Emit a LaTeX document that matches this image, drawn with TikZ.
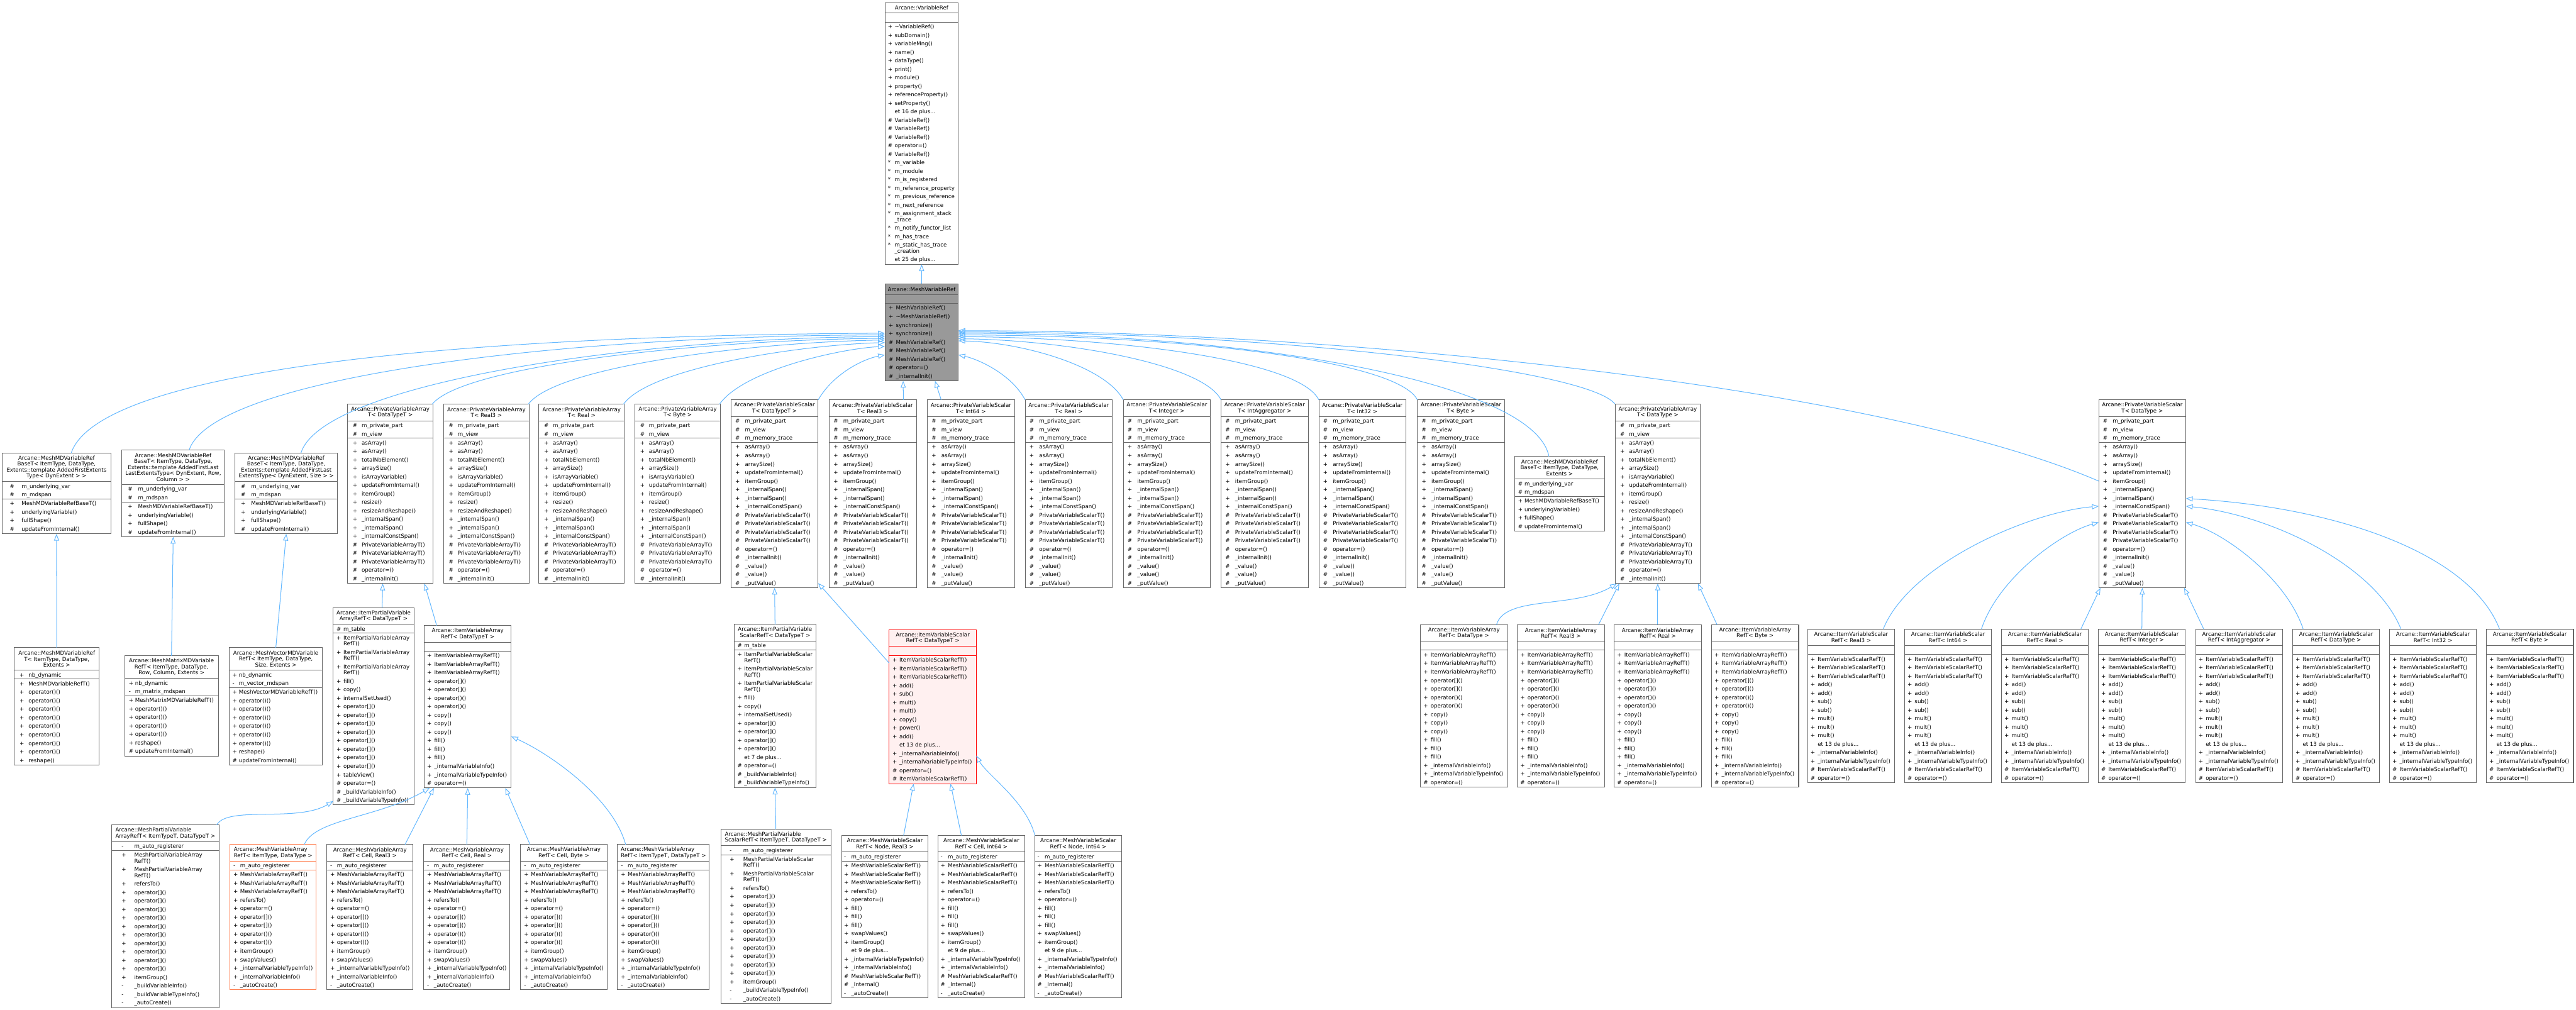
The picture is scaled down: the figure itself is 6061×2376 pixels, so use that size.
\documentclass[tikz,border=0pt]{standalone}
\usepackage{fontspec}
\setmainfont{DejaVu Sans}
\usetikzlibrary{arrows.meta,calc}
\pgfdeclarelayer{background}
\pgfsetlayers{background,main}
\definecolor{edgec}{HTML}{63B8FF}
\definecolor{boxc}{HTML}{666666}
\definecolor{grayf}{HTML}{999999}
\definecolor{redc}{HTML}{FF0000}
\definecolor{redf}{HTML}{FFF0F0}
\definecolor{orc}{HTML}{FF7F50}
\newcount\tcnt
\newcommand\fnt{\fontsize{12.8}{14}\selectfont}
\tikzset{
 cls/.style={draw=boxc,line width=1.5pt,fill=white,inner sep=0pt,outer sep=0pt,rectangle},
 clsgray/.style={cls,fill=grayf},
 clsred/.style={cls,draw=redc,fill=redf},
 clsor/.style={cls,draw=orc},
 txt/.style={font=\fnt,inner sep=0pt,outer sep=0pt,anchor=base west,text=black},
 ttl/.style={font=\fnt,inner sep=0pt,outer sep=0pt,align=center},
 ttll/.style={font=\fnt,inner sep=0pt,outer sep=0pt,align=left},
 inh/.style={draw=edgec,line width=1.5pt,-{Triangle[open,length=16pt,width=12pt]}},
}
\newcommand\coff[2]{\xdef\mysx{#1}\xdef\mynx{#2}}
\newcommand\csep{\draw[curcol,line width=1.5pt] (\myx,\mycy) -- (\myx+\myw,\mycy);\pgfmathsetmacro\mytmp{\mycy+1}\xdef\mycy{\mytmp}}
\newcommand\cbeg[9]{%
  \xdef\myname{#1}\xdef\myx{#2}\xdef\myy{#3}\xdef\myw{#4}%
  \tikzset{curbox/.style={#7},curcol/.style={draw=#9}}%
  \pgfmathsetmacro\mythh{#5*14+11}%
  \global\advance\tcnt by 1\relax
  \node[#8,name=t\the\tcnt] at (#2+#4/2,#3+\mythh/2) {#6};%
  \pgfmathsetmacro\mytmp{#3+\mythh}\xdef\mycy{\mytmp}%
  \csep}
\newcommand\crow[2]{%
  \global\advance\tcnt by 1\relax
  \node[txt,name=t\the\tcnt] at (\myx+\mysx,\mycy+14.5) {#1};%
  \global\advance\tcnt by 1\relax
  \node[txt,name=t\the\tcnt] at (\myx+\mynx,\mycy+14.5) {#2};%
  \pgfmathsetmacro\mytmp{\mycy+20}\xdef\mycy{\mytmp}}
\newcommand\crowN[1]{%
  \global\advance\tcnt by 1\relax
  \node[txt,name=t\the\tcnt] at (\myx+\mynx,\mycy+14.5) {#1};%
  \pgfmathsetmacro\mytmp{\mycy+20}\xdef\mycy{\mytmp}}
\newcommand\crowII[3]{%
  \global\advance\tcnt by 1\relax
  \node[txt,name=t\the\tcnt] at (\myx+\mysx,\mycy+14.5) {#1};%
  \global\advance\tcnt by 1\relax
  \node[txt,name=t\the\tcnt] at (\myx+\mynx,\mycy+14.5) {#2};%
  \global\advance\tcnt by 1\relax
  \node[txt,name=t\the\tcnt] at (\myx+\mynx,\mycy+28.5) {#3};%
  \pgfmathsetmacro\mytmp{\mycy+34}\xdef\mycy{\mytmp}}
\newcommand\cempty{\pgfmathsetmacro\mytmp{\mycy+20}\xdef\mycy{\mytmp}}
\newcommand\cend{%
  \pgfmathsetmacro\mytmp{\mycy+1}\xdef\mycy{\mytmp}%
  \pgfmathsetmacro\myh{\mycy-\myy}%
  \begin{pgfonlayer}{background}
  \node[curbox,anchor=north west,minimum width=\myw pt,minimum height=\myh pt] (\myname) at (\myx,\myy) {};
  \end{pgfonlayer}}
% bodies
\newcommand\MDbase{\crow{\#}{m\_underlying\_var}\crow{\#}{m\_mdspan}\csep
 \crow{+}{MeshMDVariableRefBaseT()}\crow{+}{underlyingVariable()}\crow{+}{fullShape()}\crow{\#}{updateFromInternal()}\cend}
\newcommand\PVAbody{\crow{\#}{m\_private\_part}\crow{\#}{m\_view}\csep
 \crow{+}{asArray()}\crow{+}{asArray()}\crow{+}{totalNbElement()}\crow{+}{arraySize()}\crow{+}{isArrayVariable()}
 \crow{+}{updateFromInternal()}\crow{+}{itemGroup()}\crow{+}{resize()}\crow{+}{resizeAndReshape()}
 \crow{+}{\_internalSpan()}\crow{+}{\_internalSpan()}\crow{+}{\_internalConstSpan()}
 \crow{\#}{PrivateVariableArrayT()}\crow{\#}{PrivateVariableArrayT()}\crow{\#}{PrivateVariableArrayT()}
 \crow{\#}{operator=()}\crow{\#}{\_internalInit()}\cend}
\newcommand\PVSbody{\crow{\#}{m\_private\_part}\crow{\#}{m\_view}\crow{\#}{m\_memory\_trace}\csep
 \crow{+}{asArray()}\crow{+}{asArray()}\crow{+}{arraySize()}\crow{+}{updateFromInternal()}\crow{+}{itemGroup()}
 \crow{+}{\_internalSpan()}\crow{+}{\_internalSpan()}\crow{+}{\_internalConstSpan()}
 \crow{\#}{PrivateVariableScalarT()}\crow{\#}{PrivateVariableScalarT()}\crow{\#}{PrivateVariableScalarT()}\crow{\#}{PrivateVariableScalarT()}
 \crow{\#}{operator=()}\crow{\#}{\_internalInit()}\crow{\#}{\_value()}\crow{\#}{\_value()}\crow{\#}{\_putValue()}\cend}
\newcommand\IVAbody{\cempty\csep
 \crow{+}{ItemVariableArrayRefT()}\crow{+}{ItemVariableArrayRefT()}\crow{+}{ItemVariableArrayRefT()}
 \crow{+}{operator[]()}\crow{+}{operator[]()}\crow{+}{operator()()}\crow{+}{operator()()}
 \crow{+}{copy()}\crow{+}{copy()}\crow{+}{copy()}\crow{+}{fill()}\crow{+}{fill()}\crow{+}{fill()}
 \crow{+}{\_internalVariableInfo()}\crow{+}{\_internalVariableTypeInfo()}\crow{\#}{operator=()}\cend}
\newcommand\IVSbody{\cempty\csep
 \crow{+}{ItemVariableScalarRefT()}\crow{+}{ItemVariableScalarRefT()}\crow{+}{ItemVariableScalarRefT()}
 \crow{+}{add()}\crow{+}{add()}\crow{+}{sub()}\crow{+}{sub()}\crow{+}{mult()}\crow{+}{mult()}\crow{+}{mult()}
 \crowN{et 13 de plus...}\crow{+}{\_internalVariableInfo()}\crow{+}{\_internalVariableTypeInfo()}
 \crow{\#}{ItemVariableScalarRefT()}\crow{\#}{operator=()}\cend}
\newcommand\MVAbody{\crow{-}{m\_auto\_registerer}\csep
 \crow{+}{MeshVariableArrayRefT()}\crow{+}{MeshVariableArrayRefT()}\crow{+}{MeshVariableArrayRefT()}
 \crow{+}{refersTo()}\crow{+}{operator=()}\crow{+}{operator[]()}\crow{+}{operator[]()}\crow{+}{operator()()}\crow{+}{operator()()}
 \crow{+}{itemGroup()}\crow{+}{swapValues()}\crow{+}{\_internalVariableTypeInfo()}\crow{+}{\_internalVariableInfo()}
 \crow{-}{\_autoCreate()}\cend}
\newcommand\MVSbody{\crow{-}{m\_auto\_registerer}\csep
 \crow{+}{MeshVariableScalarRefT()}\crow{+}{MeshVariableScalarRefT()}\crow{+}{MeshVariableScalarRefT()}
 \crow{+}{refersTo()}\crow{+}{operator=()}\crow{+}{fill()}\crow{+}{fill()}\crow{+}{fill()}
 \crow{+}{swapValues()}\crow{+}{itemGroup()}\crowN{et 9 de plus...}
 \crow{+}{\_internalVariableTypeInfo()}\crow{+}{\_internalVariableInfo()}
 \crow{\#}{MeshVariableScalarRefT()}\crow{\#}{\_Internal()}\crow{-}{\_autoCreate()}\cend}
\newcommand\pva[3]{\coff{12}{33}\cbeg{#1}{#2}{951}{201}{2}{Arcane::PrivateVariableArray\\T< #3 >}{cls}{ttl}{boxc}\PVAbody}
\newcommand\pvs[3]{\coff{10}{33}\cbeg{#1}{#2}{941}{205}{2}{Arcane::PrivateVariableScalar\\T< #3 >}{cls}{ttl}{boxc}\PVSbody}
\newcommand\iva[4]{\coff{7}{24}\cbeg{#1}{#2}{#3}{205}{2}{Arcane::ItemVariableArray\\RefT< #4 >}{cls}{ttl}{boxc}\IVAbody}
\newcommand\ivs[3]{\coff{7}{24}\cbeg{#1}{#2}{1480}{205}{2}{Arcane::ItemVariableScalar\\RefT< #3 >}{cls}{ttl}{boxc}\IVSbody}
\newcommand\mva[7]{\coff{8}{24}\cbeg{#1}{#2}{1987}{#4}{2}{Arcane::MeshVariableArray\\RefT< #3 >}{#5}{#7}{#6}\MVAbody}
\newcommand\mvs[3]{\coff{6}{23}\cbeg{#1}{#2}{1966}{204}{2}{Arcane::MeshVariableScalar\\RefT< #3 >}{cls}{ttl}{boxc}\MVSbody}
\begin{document}
\begin{tikzpicture}[x=1pt,y=-1pt]
\useasboundingbox (0,0) rectangle (6061,2376);
\begin{pgfonlayer}{background}\fill[white] (0,0) rectangle (6061,2376);\end{pgfonlayer}
% VariableRef
\coff{7}{23}
\cbeg{vr}{2082}{6}{173}{1}{Arcane::VariableRef}{cls}{ttl}{boxc}
\cempty\csep
\crow{+}{\textasciitilde VariableRef()}\crow{+}{subDomain()}\crow{+}{variableMng()}\crow{+}{name()}\crow{+}{dataType()}
\crow{+}{print()}\crow{+}{module()}\crow{+}{property()}\crow{+}{referenceProperty()}\crow{+}{setProperty()}
\crowN{et 16 de plus...}
\crow{\#}{VariableRef()}\crow{\#}{VariableRef()}\crow{\#}{VariableRef()}\crow{\#}{operator=()}\crow{\#}{VariableRef()}
\crow{*}{m\_variable}\crow{*}{m\_module}\crow{*}{m\_is\_registered}\crow{*}{m\_reference\_property}
\crow{*}{m\_previous\_reference}\crow{*}{m\_next\_reference}\crowII{*}{m\_assignment\_stack}{\_trace}
\crow{*}{m\_notify\_functor\_list}\crow{*}{m\_has\_trace}\crowII{*}{m\_static\_has\_trace}{\_creation}
\crowN{et 25 de plus...}
\cend
% MeshVariableRef
\coff{9}{26}
\cbeg{g}{2082}{668}{173}{1}{Arcane::MeshVariableRef}{clsgray}{ttl}{boxc}
\cempty\csep
\crow{+}{MeshVariableRef()}\crow{+}{\textasciitilde MeshVariableRef()}\crow{+}{synchronize()}\crow{+}{synchronize()}
\crow{\#}{MeshVariableRef()}\crow{\#}{MeshVariableRef()}\crow{\#}{MeshVariableRef()}\crow{\#}{operator=()}\crow{\#}{\_internalInit()}
\cend
% Row 2
\coff{18}{46}
\cbeg{mdA}{5}{1066}{256}{4}{Arcane::MeshMDVariableRef\\BaseT< ItemType, DataType,\\Extents::template AddedFirstExtents\\Type< DynExtent > >}{cls}{ttl}{boxc}\MDbase
\coff{14}{38}
\cbeg{mdB}{287}{1059}{241}{5}{Arcane::MeshMDVariableRef\\BaseT< ItemType, DataType,\\Extents::template AddedFirstLast\\LastExtentsType< DynExtent, Row,\\Column > >}{cls}{ttl}{boxc}\MDbase
\cbeg{mdC}{553}{1066}{241}{4}{Arcane::MeshMDVariableRef\\BaseT< ItemType, DataType,\\Extents::template AddedFirstLast\\ExtentsType< DynExtent, Size > >}{cls}{ttl}{boxc}\MDbase
\coff{8}{23}
\cbeg{mdD}{3564}{1074}{211}{3}{Arcane::MeshMDVariableRef\\BaseT< ItemType, DataType,\\Extents >}{cls}{ttl}{boxc}\MDbase
\pva{pvaA}{818}{DataTypeT}
\pva{pvaB}{1044}{Real3}
\pva{pvaC}{1268}{Real}
\pva{pvaD}{1494}{Byte}
\pva{pvaE}{3800}{DataType}
\pvs{pvsA}{1720}{DataTypeT}
\pvs{pvsB}{1951}{Real3}
\pvs{pvsC}{2182}{Int64}
\pvs{pvsD}{2412}{Real}
\pvs{pvsE}{2643}{Integer}
\pvs{pvsF}{2873}{IntAggregator}
\pvs{pvsG}{3103}{Int32}
\pvs{pvsH}{3335}{Byte}
\pvs{pvsI}{4938}{DataType}
% Row 3
\coff{12}{33}
\cbeg{mdAT}{34}{1524}{199}{3}{Arcane::MeshMDVariableRef\\T< ItemType, DataType,\\Extents >}{cls}{ttl}{boxc}
\crow{+}{nb\_dynamic}\csep
\crow{+}{MeshMDVariableRefT()}\crow{+}{operator()()}\crow{+}{operator()()}\crow{+}{operator()()}\crow{+}{operator()()}
\crow{+}{operator()()}\crow{+}{operator()()}\crow{+}{operator()()}\crow{+}{operator()()}\crow{+}{reshape()}\cend
\coff{10}{25}
\cbeg{mdMat}{293}{1543}{221}{3}{Arcane::MeshMatrixMDVariable\\RefT< ItemType, DataType,\\Row, Column, Extents >}{cls}{ttl}{boxc}
\crow{+}{nb\_dynamic}\crow{-}{m\_matrix\_mdspan}\csep
\crow{+}{MeshMatrixMDVariableRefT()}\crow{+}{operator()()}\crow{+}{operator()()}\crow{+}{operator()()}\crow{+}{operator()()}
\crow{+}{reshape()}\crow{\#}{updateFromInternal()}\cend
\coff{8}{23}
\cbeg{mdVec}{539}{1524}{220}{3}{Arcane::MeshVectorMDVariable\\RefT< ItemType, DataType,\\Size, Extents >}{cls}{ttl}{boxc}
\crow{+}{nb\_dynamic}\crow{-}{m\_vector\_mdspan}\csep
\crow{+}{MeshVectorMDVariableRefT()}\crow{+}{operator()()}\crow{+}{operator()()}\crow{+}{operator()()}\crow{+}{operator()()}
\crow{+}{operator()()}\crow{+}{operator()()}\crow{+}{reshape()}\crow{\#}{updateFromInternal()}\cend
\coff{8}{24}
\cbeg{ipva}{784}{1430}{190}{2}{Arcane::ItemPartialVariable\\ArrayRefT< DataTypeT >}{cls}{ttl}{boxc}
\crow{\#}{m\_table}\csep
\crowII{+}{ItemPartialVariableArray}{RefT()}\crowII{+}{ItemPartialVariableArray}{RefT()}\crowII{+}{ItemPartialVariableArray}{RefT()}
\crow{+}{fill()}\crow{+}{copy()}\crow{+}{internalSetUsed()}
\crow{+}{operator[]()}\crow{+}{operator[]()}\crow{+}{operator[]()}\crow{+}{operator[]()}
\crow{+}{operator[]()}\crow{+}{operator[]()}\crow{+}{operator[]()}\crow{+}{operator[]()}
\crow{+}{tableView()}\crow{\#}{operator=()}\crow{\#}{\_buildVariableInfo()}\crow{\#}{\_buildVariableTypeInfo()}\cend
\iva{ivaA}{998}{1472}{DataTypeT}
\iva{ivaE}{3342}{1470}{DataType}
\iva{ivaF}{3570}{1470}{Real3}
\iva{ivaG}{3798}{1470}{Real}
\iva{ivaH}{4027}{1470}{Byte}
\coff{8}{24}
\cbeg{ipvs}{1727}{1469}{193}{2}{Arcane::ItemPartialVariable\\ScalarRefT< DataTypeT >}{cls}{ttl}{boxc}
\crow{\#}{m\_table}\csep
\crowII{+}{ItemPartialVariableScalar}{RefT()}\crowII{+}{ItemPartialVariableScalar}{RefT()}\crowII{+}{ItemPartialVariableScalar}{RefT()}
\crow{+}{fill()}\crow{+}{copy()}\crow{+}{internalSetUsed()}
\crow{+}{operator[]()}\crow{+}{operator[]()}\crow{+}{operator[]()}\crow{+}{operator[]()}
\crowN{et 7 de plus...}\crow{\#}{operator=()}\crow{\#}{\_buildVariableInfo()}\crow{\#}{\_buildVariableTypeInfo()}\cend
\coff{8}{24}
\cbeg{ivsR}{2092}{1482}{205}{2}{Arcane::ItemVariableScalar\\RefT< DataTypeT >}{clsred}{ttl}{redc}
\cempty\csep
\crow{+}{ItemVariableScalarRefT()}\crow{+}{ItemVariableScalarRefT()}\crow{+}{ItemVariableScalarRefT()}
\crow{+}{add()}\crow{+}{sub()}\crow{+}{mult()}\crow{+}{mult()}\crow{+}{copy()}\crow{+}{power()}\crow{+}{add()}
\crowN{et 13 de plus...}\crow{+}{\_internalVariableInfo()}\crow{+}{\_internalVariableTypeInfo()}
\crow{\#}{operator=()}\crow{\#}{ItemVariableScalarRefT()}\cend
\ivs{ivsA}{4253}{Real3}
\ivs{ivsB}{4481}{Int64}
\ivs{ivsC}{4709}{Real}
\ivs{ivsD}{4937}{Integer}
\ivs{ivsE}{5166}{IntAggregator}
\ivs{ivsF}{5394}{DataType}
\ivs{ivsG}{5622}{Int32}
\ivs{ivsH}{5850}{Byte}
% Row 4
\coff{23}{53}
\cbeg{mpva}{263}{1941}{252}{2}{Arcane::MeshPartialVariable\\ArrayRefT< ItemTypeT, DataTypeT >}{cls}{ttll}{boxc}
\crow{-}{m\_auto\_registerer}\csep
\crowII{+}{MeshPartialVariableArray}{RefT()}\crowII{+}{MeshPartialVariableArray}{RefT()}
\crow{+}{refersTo()}
\crow{+}{operator[]()}\crow{+}{operator[]()}\crow{+}{operator[]()}\crow{+}{operator[]()}\crow{+}{operator[]()}
\crow{+}{operator[]()}\crow{+}{operator[]()}\crow{+}{operator[]()}\crow{+}{operator[]()}\crow{+}{operator[]()}
\crow{+}{itemGroup()}\crow{-}{\_buildVariableInfo()}\crow{-}{\_buildVariableTypeInfo()}\crow{-}{\_autoCreate()}\cend
\mva{mvaA}{541}{ItemType, DataType}{203}{clsor}{orc}{ttll}
\mva{mvaB}{769}{Cell, Real3}{203}{cls}{boxc}{ttl}
\mva{mvaC}{997}{Cell, Real}{203}{cls}{boxc}{ttl}
\mva{mvaD}{1225}{Cell, Byte}{203}{cls}{boxc}{ttl}
\mva{mvaE}{1453}{ItemTypeT, DataTypeT}{216}{cls}{boxc}{ttll}
\coff{21}{53}
\cbeg{mpvs}{1696}{1951}{259}{2}{Arcane::MeshPartialVariable\\ScalarRefT< ItemTypeT, DataTypeT >}{cls}{ttll}{boxc}
\crow{-}{m\_auto\_registerer}\csep
\crowII{+}{MeshPartialVariableScalar}{RefT()}\crowII{+}{MeshPartialVariableScalar}{RefT()}
\crow{+}{refersTo()}
\crow{+}{operator[]()}\crow{+}{operator[]()}\crow{+}{operator[]()}\crow{+}{operator[]()}\crow{+}{operator[]()}
\crow{+}{operator[]()}\crow{+}{operator[]()}\crow{+}{operator[]()}\crow{+}{operator[]()}\crow{+}{operator[]()}
\crow{+}{itemGroup()}\crow{-}{\_buildVariableTypeInfo()}\crow{-}{\_autoCreate()}\cend
\mvs{mvsA}{1980}{Node, Real3}
\mvs{mvsB}{2207}{Cell, Int64}
\mvs{mvsC}{2435}{Node, Int64}
% ---------- edges
\draw[inh] (g.north) -- (vr.south);
\draw[inh] ([xshift=34.5pt]mdA.north) .. controls +(62,-186) and +(-1082,6) .. ([yshift=-116pt]g.north west);
\draw[inh] ([xshift=37.5pt]mdB.north) .. controls +(55,-169) and +(-782,2) .. ([yshift=-120pt]g.north west);
\draw[inh] ([xshift=34.5pt]mdC.north) .. controls +(52,-166) and +(-582,3) .. ([yshift=-124pt]g.north west);
\draw[inh] ([xshift=-2pt]pvaA.north east) .. controls +(73,-91) and +(-432,4) .. ([yshift=-128pt]g.north west);
\draw[inh] ([xshift=-2pt]pvaB.north east) .. controls +(68,-91) and +(-302,5) .. ([yshift=-132pt]g.north west);
\draw[inh] ([xshift=-2pt]pvaC.north east) .. controls +(62,-86) and +(-202,6) .. ([yshift=-138pt]g.north west);
\draw[inh] ([xshift=-2pt]pvaD.north east) .. controls +(57,-81) and +(-102,5) .. ([yshift=-147pt]g.north west);
\draw[inh] (pvsA.north east) .. controls +(35,-61) and +(-52,10) .. ([yshift=-167pt]g.north west);
\draw[inh] ([xshift=72pt]pvsB.north) -- ([xshift=43pt]g.south west);
\draw[inh] ([xshift=-70pt]pvsC.north) -- ([xshift=118pt]g.south west);
\draw[inh] (pvsD.north west) .. controls +(-32,-61) and +(46,10) .. ([yshift=-167pt]g.north east);
\draw[inh] (pvsE.north west) .. controls +(-43,-81) and +(146,3) .. ([yshift=-134pt]g.north east);
\draw[inh] (pvsF.north west) .. controls +(-43,-86) and +(246,3) .. ([yshift=-129pt]g.north east);
\draw[inh] (pvsG.north west) .. controls +(-43,-91) and +(396,3) .. ([yshift=-124pt]g.north east);
\draw[inh] (pvsH.north west) .. controls +(-45,-91) and +(546,2) .. ([yshift=-120pt]g.north east);
\draw[inh] ([xshift=-25pt]mdD.north) .. controls +(-34,-174) and +(696,1) .. ([yshift=-116pt]g.north east);
\draw[inh] (pvaE.north west) .. controls +(-60,-81) and +(746,1) .. ([yshift=-113pt]g.north east);
\draw[inh] ([yshift=-191pt]pvsI.north west) .. controls +(-538,-232) and +(846,0) .. ([yshift=-110pt]g.north east);
% row 3 -> row 2
\draw[inh] (mdAT.north) -- (mdA.south);
\draw[inh] (mdMat.north) -- (mdB.south);
\draw[inh] (mdVec.north) -- (mdC.south);
\draw[inh] ([xshift=20pt]ipva.north) -- ([xshift=-18pt]pvaA.south);
\draw[inh] ([xshift=-73pt]ivaA.north) -- ([xshift=80pt]pvaA.south);
\draw[inh] (ipvs.north) -- (pvsA.south);
\draw[inh] ([yshift=-78pt]ivsR.north west) -- ([yshift=11pt]pvsA.south east);
\draw[inh] ([xshift=76.5pt]ivaE.north) .. controls +(20,-70) and +(-100,60) .. ([xshift=4pt]pvaE.south west);
\draw[inh] ([xshift=88.5pt]ivaF.north) -- ([xshift=10pt]pvaE.south west);
\draw[inh] (ivaG.north) -- (pvaE.south);
\draw[inh] ([xshift=-89.5pt]ivaH.north) -- ([xshift=-6pt]pvaE.south east);
\draw[inh] ([xshift=75.5pt]ivsA.north) .. controls +(60,-150) and +(-170,15) .. ([yshift=-250pt]pvsI.north west);
\draw[inh] ([xshift=78.5pt]ivsB.north) .. controls +(40,-120) and +(-90,25) .. ([yshift=-288pt]pvsI.north west);
\draw[inh] ([xshift=84.5pt]ivsC.north) -- ([xshift=4pt]pvsI.south west);
\draw[inh] (ivsD.north) -- (pvsI.south);
\draw[inh] ([xshift=-83.5pt]ivsE.north) -- ([xshift=-4pt]pvsI.south east);
\draw[inh] ([xshift=-77.5pt]ivsF.north) .. controls +(-40,-120) and +(90,25) .. ([yshift=-288pt]pvsI.north east);
\draw[inh] ([xshift=-75.5pt]ivsG.north) .. controls +(-60,-150) and +(200,20) .. ([yshift=-250pt]pvsI.north east);
\draw[inh] ([xshift=-71.5pt]ivsH.north) .. controls +(-70,-180) and +(350,20) .. ([yshift=-232pt]pvsI.north east);
% row 4 -> row 3
\draw[inh] ([xshift=-5pt]mpva.north east) .. controls +(25,-46) and +(-84,51) .. ([yshift=9pt]ipva.south west);
\draw[inh] ([xshift=73.5pt]mvaA.north) .. controls +(25,-60) and +(-120,70) .. ([xshift=13pt]ivaA.south west);
\draw[inh] ([xshift=82.5pt]mvaB.north) -- ([xshift=23pt]ivaA.south west);
\draw[inh] (mvaC.north) -- (ivaA.south);
\draw[inh] ([xshift=-79.5pt]mvaD.north) -- ([xshift=-14pt]ivaA.south east);
\draw[inh] ([xshift=-89pt]mvaE.north) .. controls +(-30,-110) and +(90,40) .. ([yshift=-261pt]ivaA.north east);
\draw[inh] (mpvs.north) -- (ipvs.south);
\draw[inh] ([xshift=44pt]mvsA.north) -- ([xshift=-45pt]ivsR.south);
\draw[inh] ([xshift=-47pt]mvsB.north) -- ([xshift=42pt]ivsR.south);
\draw[inh] (mvsC.north west) .. controls +(-20,-80) and +(25,45) .. ([yshift=66pt]ivsR.south east);
\end{tikzpicture}
\end{document}
